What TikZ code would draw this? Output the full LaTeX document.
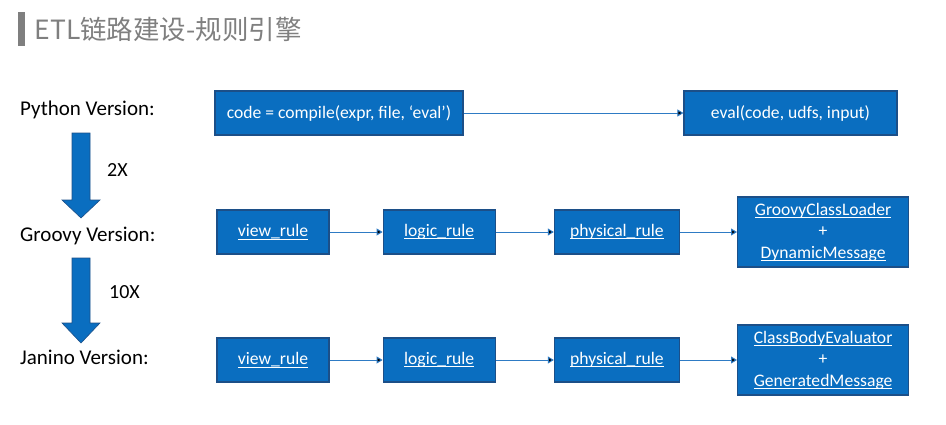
\documentclass[tikz,border=0pt]{standalone}
\usepackage{fontspec}
\setmainfont{Carlito}
\newfontfamily\cjk{Noto Sans CJK SC}
\usetikzlibrary{positioning, arrows.meta}

\definecolor{boxblue}{HTML}{0A6EC0}
\definecolor{boxedge}{HTML}{1C4F88}
\definecolor{linkblue}{HTML}{2E7BC4}
\definecolor{titlegray}{HTML}{7F7F7F}

\newcommand\uln[1]{\setbox0\hbox{#1}\rlap{\rule[-2.4pt]{\wd0}{0.7pt}}\box0}

\begin{document}
\begin{tikzpicture}[
    x=1pt, y=-1pt,
    >={Triangle[length=6pt,width=7pt]},
    node distance=53pt,
    every node/.style={font=\fontsize{17.6}{21.5}\selectfont},
    rulebox/.style={
        draw=boxedge,
        line width=1.2pt,
        fill=boxblue,
        text=white,
        minimum height=44pt,
        inner sep=2pt,
        align=center
    },
    version/.style={font=\fontsize{21}{24}\selectfont, anchor=west, inner sep=0pt},
    flow/.style={->, draw=linkblue, line width=1pt},
    speedup/.style={fill=boxblue, draw=boxedge, line width=0.6pt}
]
\useasboundingbox (0,0) rectangle (946,424);

% title
\fill[titlegray] (18,12) rectangle (25,46);
\node[anchor=west, text=titlegray, font=\cjk\fontsize{26.5}{30}\selectfont] (title) at (31,29) {ETL链路建设-规则引擎};

% versions
\node[version] (py) at (20,110) {Python Version:};
\node[version] (gv) at (20,236) {Groovy Version:};
\node[version] (jn) at (20,357) {Janino Version:};

\fill[speedup] (72,133) -- (90,133) -- (90,200) -- (100,200) -- (81,218) -- (62,200) -- (72,200) -- cycle;
\node[anchor=west, inner sep=0pt, font=\fontsize{20}{24}\selectfont] (x2) at (107,170) {2X};
\fill[speedup] (72,258) -- (90,258) -- (90,323) -- (100,323) -- (81,343) -- (62,323) -- (72,323) -- cycle;
\node[anchor=west, inner sep=0pt, font=\fontsize{20}{24}\selectfont] (x10) at (109,292) {10X};

% python
\node[rulebox, minimum width=248pt] (compile) at (339,113) {code = compile(expr, file, ‘eval’)};
\node[rulebox, minimum width=213pt] (eval) at (790.5,113) {eval(code, udfs, input)};

% groovy
\node[rulebox, minimum width=112pt] (gview) at (273,232) {\uln{view\_rule}};
\node[rulebox, minimum width=112pt, right=53pt of gview] (glogic) {\uln{logic\_rule}};
\node[rulebox, minimum width=125pt, right=58pt of glogic] (gphys) {\uln{physical\_rule}};
\node[rulebox, minimum width=171pt, minimum height=70pt, right=57pt of gphys] (gload) {\uln{GroovyClassLoader}\\+\\\uln{DynamicMessage}};

% janino
\node[rulebox, minimum width=112pt] (jview) at (273,360) {\uln{view\_rule}};
\node[rulebox, minimum width=112pt, right=53pt of jview] (jlogic) {\uln{logic\_rule}};
\node[rulebox, minimum width=125pt, right=58pt of jlogic] (jphys) {\uln{physical\_rule}};
\node[rulebox, minimum width=171pt, minimum height=70pt, right=57pt of jphys] (jbody) {\uln{ClassBodyEvaluator}\\+\\\uln{GeneratedMessage}};

\path[flow]
(compile) edge (eval)
(gview) edge (glogic)
(glogic) edge (gphys)
(gphys) edge (gload)
(jview) edge (jlogic)
(jlogic) edge (jphys)
(jphys) edge (jbody);

\end{tikzpicture}
\end{document}
